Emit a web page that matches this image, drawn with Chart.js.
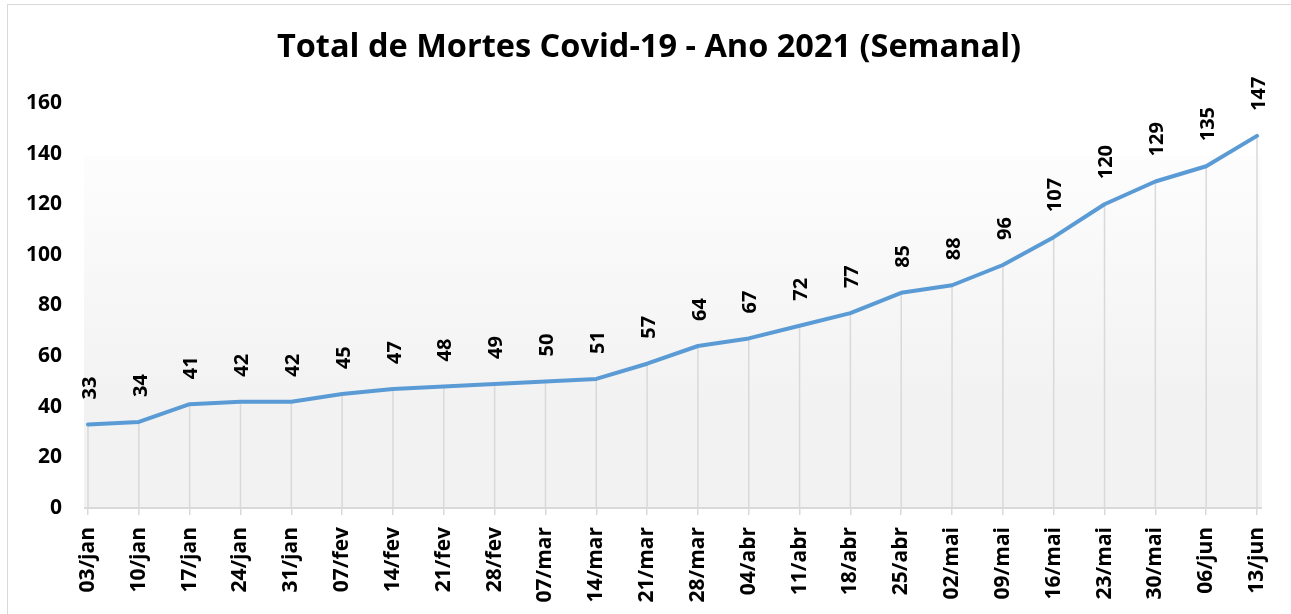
<!DOCTYPE html>
<html>
<head>
<meta charset="utf-8">
<script src="https://cdn.jsdelivr.net/npm/chart.js@4"></script>
<style>
  html, body { margin: 0; padding: 0; background: #fff; overflow: hidden; }
  #wrap { position: relative; width: 1291px; height: 614px; }
  #frame { position: absolute; left: 7px; top: 4px; width: 1300px; height: 640px; border: 1px solid #d9d9d9; box-sizing: border-box; }
  canvas { position: absolute; left: 0; top: 0; }
</style>
</head>
<body>
<div id="wrap">
  <div id="frame"></div>
  <canvas id="c" width="1291" height="614"></canvas>
</div>
<script>
const title = 'Total de Mortes Covid-19 - Ano 2021 (Semanal)';
const categories = ['03/jan','10/jan','17/jan','24/jan','31/jan','07/fev','14/fev','21/fev','28/fev','07/mar','14/mar','21/mar','28/mar','04/abr','11/abr','18/abr','25/abr','02/mai','09/mai','16/mai','23/mai','30/mai','06/jun','13/jun'];
const deaths = [33,34,41,42,42,45,47,48,49,50,51,57,64,67,72,77,85,88,96,107,120,129,135,147];
const yTicks = [0,20,40,60,80,100,120,140,160];

const FONT = '"Open Sans", Lato, sans-serif';

const decor = {
  id: 'decor',
  beforeDatasetsDraw(chart) {
    const {ctx, chartArea: a, scales: {x, y}} = chart;
    ctx.save();
    const top = 156;
    const g = ctx.createLinearGradient(0, top, 0, a.bottom);
    g.addColorStop(0, '#fdfdfd');
    g.addColorStop(0.7, '#f2f2f2');
    g.addColorStop(1, '#f2f2f2');
    ctx.fillStyle = g;
    ctx.fillRect(a.left - 4, top, (a.right + 5) - (a.left - 4), a.bottom - top);
    ctx.strokeStyle = '#d9d9d9';
    ctx.lineWidth = 1.5;
    deaths.forEach((v, i) => {
      const px = x.getPixelForValue(i);
      ctx.beginPath();
      ctx.moveTo(px, y.getPixelForValue(v));
      ctx.lineTo(px, y.getPixelForValue(0));
      ctx.stroke();
    });
    ctx.lineWidth = 2;
    ctx.beginPath();
    ctx.moveTo(a.left - 4, a.bottom);
    ctx.lineTo(a.right + 5, a.bottom);
    ctx.stroke();
    ctx.restore();
  },
  afterDatasetsDraw(chart) {
    const {ctx, scales: {x, y}} = chart;
    ctx.save();
    ctx.fillStyle = '#000';
    ctx.font = 'bold 20px ' + FONT;
    ctx.textAlign = 'left';
    ctx.textBaseline = 'middle';
    deaths.forEach((v, i) => {
      const px = x.getPixelForValue(i);
      const py = y.getPixelForValue(v);
      ctx.save();
      ctx.translate(px + 2, py - 25);
      ctx.rotate(-Math.PI / 2);
      ctx.fillText(String(v), 0, 0);
      ctx.restore();
    });
    ctx.font = 'bold 32.5px ' + FONT;
    ctx.textAlign = 'center';
    ctx.textBaseline = 'middle';
    ctx.fillText(title, 649, 48);
    ctx.restore();
  }
};

new Chart(document.getElementById('c'), {
  type: 'line',
  data: {
    labels: categories,
    datasets: [{
      data: deaths,
      borderColor: '#5b9bd5',
      borderWidth: 4,
      borderJoinStyle: 'round',
      borderCapStyle: 'round',
      pointRadius: 0,
      tension: 0,
      fill: false
    }]
  },
  options: {
    responsive: false,
    animation: false,
    devicePixelRatio: 1,
    layout: { padding: { left: 0, right: 34, top: 103, bottom: 0 } },
    plugins: { legend: { display: false }, tooltip: { enabled: false }, title: { display: false } },
    scales: {
      x: {
        offset: false,
        border: { display: false },
        grid: { drawOnChartArea: false, drawTicks: true, tickLength: 7, color: '#d9d9d9', lineWidth: 1.5 },
        ticks: {
          minRotation: 90, maxRotation: 90, autoSkip: false, padding: 12,
          color: '#000', font: { family: FONT, size: 21, weight: 'bold' }
        },
        afterFit(s) { s.height = 106; s.paddingLeft = 0; s.paddingRight = 0; }
      },
      y: {
        min: 0, max: 160,
        border: { display: false },
        grid: { display: false, drawTicks: false },
        afterBuildTicks(s) { s.ticks = yTicks.map(v => ({ value: v })); },
        ticks: {
          padding: 26, color: '#000',
          font: { family: FONT, size: 21, weight: 'bold' }
        },
        afterFit(s) { s.width = 88; s.paddingTop = 0; s.paddingBottom = 0; }
      }
    }
  },
  plugins: [decor]
});
</script>
</body>
</html>
